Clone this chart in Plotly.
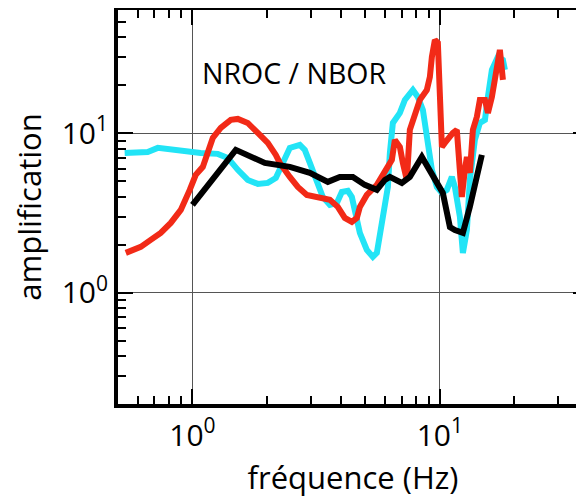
import math
import plotly.graph_objects as go

# ---- data ----
cyan_f = [0.532, 0.659, 0.724, 0.931, 1.080, 1.266, 1.389, 1.525, 1.673, 1.837, 2.016, 2.172,
          2.318, 2.474, 2.716, 2.845, 2.981, 3.181, 3.364, 3.592, 3.833, 4.016, 4.246, 4.408,
          4.533, 4.749, 5.068, 5.360, 5.563, 5.721, 5.994, 6.164, 6.280, 6.457, 6.892, 7.220,
          7.780, 8.149, 8.539, 8.944, 9.284, 9.725, 10.19, 10.67, 11.18, 11.50, 12.05, 12.39,
          12.86, 13.22, 13.85, 14.51, 15.21, 15.64, 16.23, 17.16, 17.98, 18.32]
cyan_a = [7.52, 7.63, 8.09, 7.63, 7.52, 7.42, 7.00, 5.89, 5.09, 4.81, 4.88, 5.24,
          6.51, 8.09, 8.45, 7.86, 6.51, 5.09, 3.98, 3.55, 3.65, 4.28, 4.35, 3.98,
          3.16, 2.37, 1.853, 1.675, 1.775, 2.236, 3.30, 4.60, 7.52, 11.60, 13.41, 16.18,
          18.69, 16.89, 14.00, 8.20, 5.89, 4.60, 4.22, 4.41, 5.32, 4.60, 2.99, 1.775,
          2.47, 5.09, 9.08, 11.60, 12.12, 16.89, 24.96, 30.11, 28.83, 24.96]

red_f = [0.5375, 0.618, 0.678, 0.744, 0.817, 0.897, 0.975, 1.031, 1.101, 1.153, 1.208, 1.301,
         1.428, 1.525, 1.673, 1.837, 2.016, 2.172, 2.254, 2.474, 2.666, 2.899, 3.272, 3.592,
         3.868, 4.129, 4.408, 4.617, 4.749, 5.068, 5.563, 5.994, 6.396, 6.577, 6.892, 7.086,
         7.355, 7.563, 7.925, 8.303, 8.858, 9.111, 9.284, 9.546, 9.815, 10.0, 10.19, 10.48,
         10.67, 11.29, 11.71, 12.05, 12.27, 12.62, 12.86, 13.22, 13.60, 14.11, 14.51, 15.21,
         15.64, 16.23, 16.69, 17.48, 17.98]
red_a = [1.775, 1.935, 2.141, 2.37, 2.737, 3.30, 4.41, 5.48, 6.15, 7.52, 9.34, 10.80,
         12.12, 12.29, 11.60, 10.04, 8.69, 7.31, 6.51, 5.32, 4.60, 4.10, 3.93, 3.82,
         3.45, 2.94, 2.78, 2.94, 3.45, 4.10, 4.74, 5.64, 6.80, 9.08, 8.20, 6.51,
         5.09, 10.49, 13.41, 16.18, 18.69, 22.55, 30.11, 38.48, 36.86, 16.89, 8.20, 8.69,
         9.08, 10.04, 10.49, 6.51, 3.98, 5.89, 7.10, 5.64, 10.49, 12.66, 16.18, 16.18,
         13.41, 16.89, 21.60, 33.31, 21.60]

black_f = [1.0, 1.497, 1.961, 2.152, 2.474, 2.981, 3.525, 3.941, 4.449, 4.974, 5.563, 5.994,
           6.280, 7.020, 7.563, 8.458, 9.369, 10.28, 10.98, 11.50, 12.39, 13.22, 14.78]
black_a = [3.55, 7.86, 6.51, 6.33, 6.15, 5.64, 4.95, 5.32, 5.32, 4.74, 4.41, 5.09,
           5.32, 4.88, 5.32, 7.10, 5.32, 4.22, 2.58, 2.47, 2.37, 3.45, 7.31]

major_vals = [1, 10]
major_text = ["10<sup>0</sup>", "10<sup>1</sup>"]
x_minor = [0.5, 0.6, 0.7, 0.8, 0.9, 2, 3, 4, 5, 6, 7, 8, 9, 20, 30]
y_minor = [0.2, 0.3, 0.4, 0.5, 0.6, 0.7, 0.8, 0.9, 2, 3, 4, 5, 6, 7, 8, 9, 20, 30, 40, 50]

x_range = [0.5, 39.7]
y_range = [0.2, 59.3]

title_text = "NROC / NBOR"
x_title = "fréquence (Hz)"
y_title = "amplification"

CYAN = "#22E4F6"
RED = "#F22A17"
BLACK = "#000000"

fig = go.Figure()
fig.add_trace(go.Scatter(x=cyan_f, y=cyan_a, mode="lines",
                         line=dict(color=CYAN, width=6), showlegend=False))
fig.add_trace(go.Scatter(x=red_f, y=red_a, mode="lines",
                         line=dict(color=RED, width=6), showlegend=False))
fig.add_trace(go.Scatter(x=black_f, y=black_a, mode="lines",
                         line=dict(color=BLACK, width=6), showlegend=False))

FONT = "Open Sans, Lato, sans-serif"

minor_x = dict(tickmode="array", tickvals=x_minor, ticks="inside", ticklen=8,
               tickwidth=1.5, tickcolor="black", showgrid=False)
minor_y = dict(tickmode="array", tickvals=y_minor, ticks="inside", ticklen=8,
               tickwidth=1.5, tickcolor="black", showgrid=False)

fig.update_layout(
    width=584, height=497,
    margin=dict(l=110, r=4, t=2, b=101, pad=0),
    paper_bgcolor="white", plot_bgcolor="white",
    font=dict(family=FONT, size=28, color="black"),
    xaxis=dict(
        type="log", range=[math.log10(x_range[0]), math.log10(x_range[1])],
        automargin=False,
        tickmode="array", tickvals=major_vals, ticktext=major_text,
        ticks="inside", ticklen=15, tickwidth=1.5, tickcolor="black",
        ticklabelstandoff=2,
        showline=True, linewidth=4, linecolor="black", mirror="ticks",
        showgrid=True, gridcolor="#555555", gridwidth=1,
        zeroline=False,
        minor=minor_x,
        tickfont=dict(size=30),
        title=dict(text=x_title, font=dict(size=31), standoff=14),
    ),
    yaxis=dict(
        type="log", range=[math.log10(y_range[0]), math.log10(y_range[1])],
        automargin=False,
        tickmode="array", tickvals=major_vals, ticktext=major_text,
        ticks="inside", ticklen=15, tickwidth=1.5, tickcolor="black",
        showline=True, linewidth=4, linecolor="black", mirror="ticks",
        showgrid=True, gridcolor="#555555", gridwidth=1,
        zeroline=False,
        minor=minor_y,
        tickfont=dict(size=30),
        title=dict(text=y_title, font=dict(size=31), standoff=15),
    ),
    annotations=[dict(text=title_text, xref="paper", yref="paper",
                      x=0.3745, y=0.84, xanchor="center", yanchor="middle",
                      showarrow=False, font=dict(size=28.5, color="black"))],
)

fig.write_html("out.html")
